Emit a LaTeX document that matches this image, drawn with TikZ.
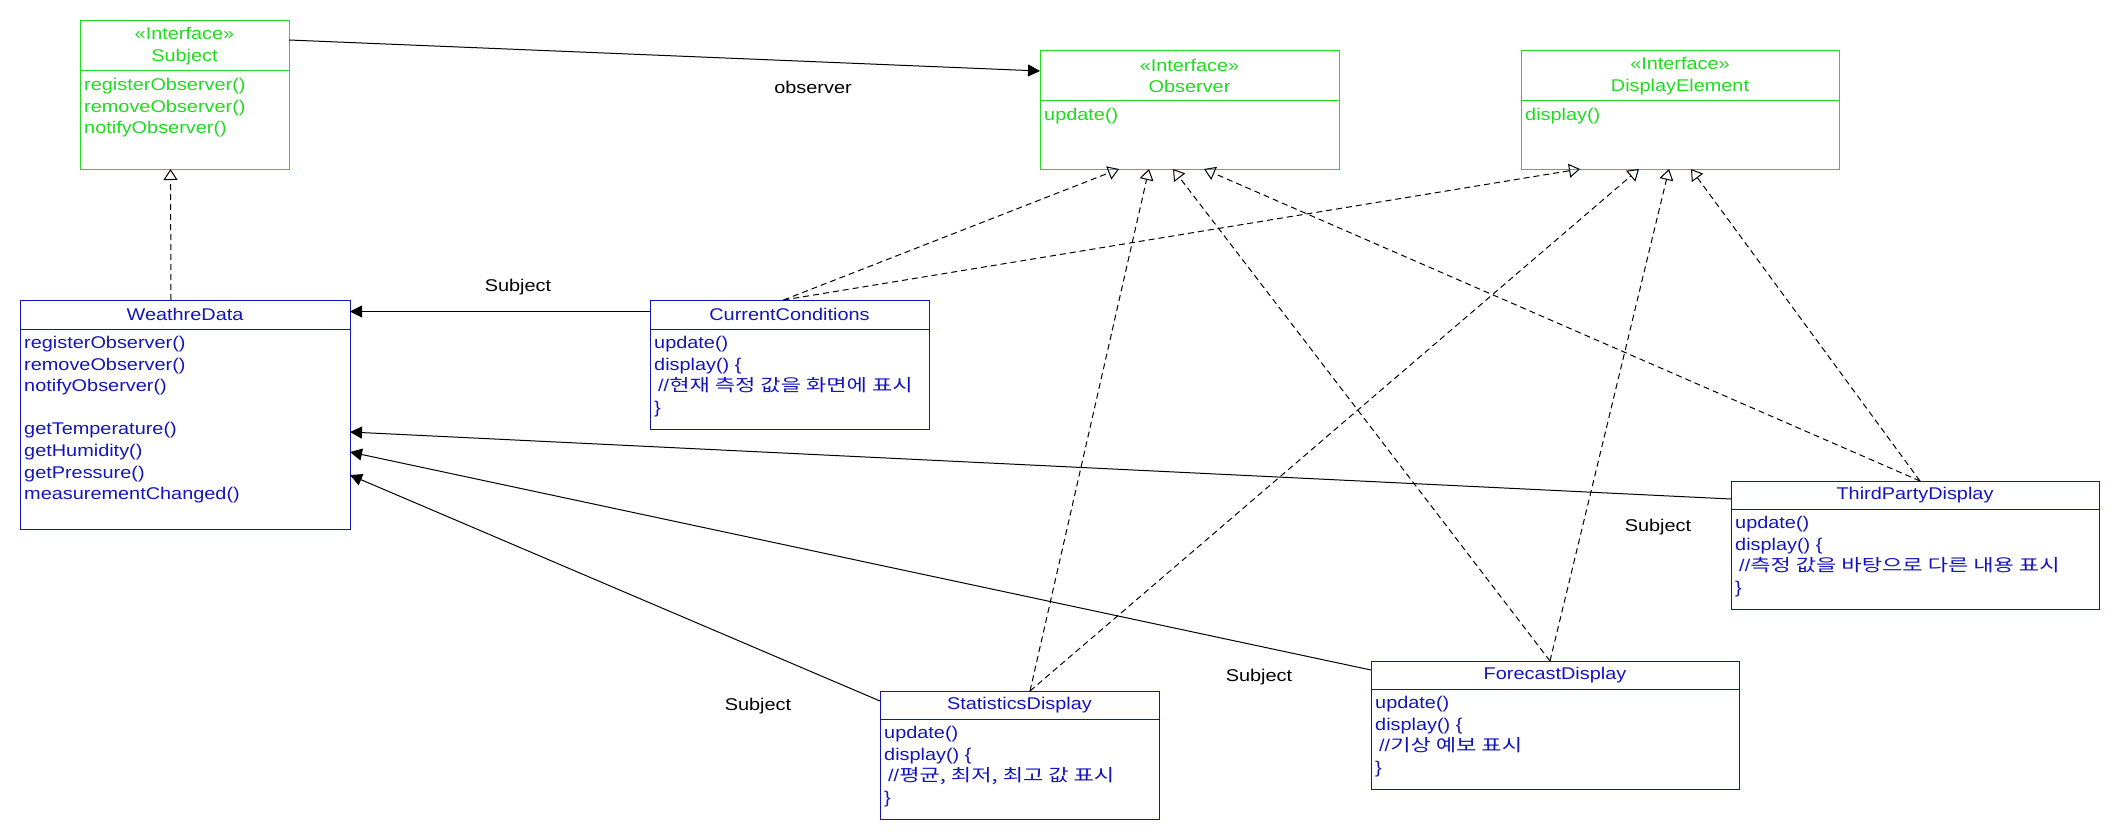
\documentclass[tikz,border=0pt]{standalone}
\usepackage{fontspec}
\setmainfont{Liberation Sans}[FakeStretch=1.17]
\newfontfamily\krfont{Noto Sans CJK KR}[FakeStretch=1.3]
\usepackage{xcolor}
\usepackage{tikz}
\usetikzlibrary{arrows.meta,calc}
\definecolor{ugreen}{HTML}{1EDC1E}
\definecolor{ublue}{HTML}{1414BE}
\newcommand{\umlfont}{\fontsize{17}{21.6}\selectfont}
\tikzset{
  hd/.style={draw,line width=1pt,align=center,inner sep=0pt,outer sep=0pt,font=\umlfont},
  opstxt/.style={align=left,inner xsep=4pt,inner ysep=7pt,font=\umlfont},
  asc/.style={-{Triangle[length=12pt,width=12pt]},line width=1pt,black},
  real/.style={-{Triangle[open,length=11pt,width=14pt]},line width=1pt,black,dash pattern=on 6pt off 4pt},
  lbl/.style={font=\umlfont,black}
}
\newcommand{\umlbox}[8]{\node[hd,draw=#2,text=#2,minimum width=#4,minimum height=#5,anchor=north west] (#1) at #3 {#7};
  \node[hd,draw=#2,minimum width=#4,minimum height=#6,anchor=north] (#1-ops) at (#1.south) {};
  \node[opstxt,text=#2,anchor=north west] (#1-txt) at (#1-ops.north west) {#8};}
\begin{document}
\begin{tikzpicture}[x=1pt,y=-1pt]
\useasboundingbox (0,0) rectangle (2120,840);
% interfaces
\umlbox{subj}{ugreen}{(80,21)}{209pt}{50pt}{98pt}{«Interface»\\Subject}{registerObserver()\\removeObserver()\\notifyObserver()}
\umlbox{obs}{ugreen}{(1040,51)}{299pt}{50pt}{68pt}{«Interface»\\Observer}{update()}
\umlbox{disp}{ugreen}{(1521,51)}{318pt}{50pt}{68pt}{«Interface»\\DisplayElement}{display()}
% classes
\umlbox{wd}{ublue}{(20,300)}{330pt}{29pt}{200pt}{WeathreData}{registerObserver()\\removeObserver()\\notifyObserver()\\\mbox{}\\getTemperature()\\getHumidity()\\getPressure()\\measurementChanged()}
\umlbox{cc}{ublue}{(650,300)}{279pt}{29pt}{100pt}{CurrentConditions}{update()\\display() \{\\\hspace*{4pt}//{\krfont 현재 측정 값을 화면에 표시}\\\}}
\umlbox{sd}{ublue}{(880,691)}{279pt}{28pt}{100pt}{StatisticsDisplay}{update()\\display() \{\\\hspace*{4pt}//{\krfont 평균, 최저, 최고 값 표시}\\\}}
\umlbox{fc}{ublue}{(1371,661)}{368pt}{28pt}{100pt}{ForecastDisplay}{update()\\display() \{\\\hspace*{4pt}//{\krfont 기상 예보 표시}\\\}}
\umlbox{tp}{ublue}{(1731,481)}{368pt}{28pt}{100pt}{ThirdPartyDisplay}{update()\\display() \{\\\hspace*{4pt}//{\krfont 측정 값을 바탕으로 다른 내용 표시}\\\}}
% associations
\draw[asc] ([yshift=6pt]subj.east) -- ([yshift=5pt]obs.west);
\draw[asc] ([yshift=3pt]cc.west) -- ([yshift=3pt]wd.east);
\draw[asc] ([yshift=-4pt]tp.west) -- ([yshift=-3pt]wd-ops.east);
\draw[asc] ([yshift=5pt]fc.west) -- ([yshift=-23pt]wd-ops.east);
\draw[asc] ([yshift=4pt]sd.west) -- ([yshift=-46pt]wd-ops.east);
\node[lbl] (l-obs) at (813,87) {observer};
\node[lbl] (l-cc) at (518,287) {Subject};
\node[lbl] (l-tp) at (1658,527) {Subject};
\node[lbl] (l-fc) at (1259,677) {Subject};
\node[lbl] (l-sd) at (758,706) {Subject};
% realizations
\draw[real] ([xshift=-14pt]wd.north) -- ([xshift=-14pt]subj-ops.south);
\draw[real] ([xshift=-6pt]cc.north) -- ([xshift=-70.5pt]obs-ops.south);
\draw[real] ([xshift=-6pt]cc.north) -- ([xshift=-100pt]disp-ops.south);
\draw[real] ([xshift=10.5pt]sd.north) -- ([xshift=-40.5pt]obs-ops.south);
\draw[real] ([xshift=10.5pt]sd.north) -- ([xshift=-41pt]disp-ops.south);
\draw[real] ([xshift=-5pt]fc.north) -- ([xshift=-16.5pt]obs-ops.south);
\draw[real] ([xshift=-5pt]fc.north) -- ([xshift=-11pt]disp-ops.south);
\draw[real] ([xshift=5pt]tp.north) -- ([xshift=14.5pt]obs-ops.south);
\draw[real] ([xshift=5pt]tp.north) -- ([xshift=11pt]disp-ops.south);
\end{tikzpicture}
\end{document}
